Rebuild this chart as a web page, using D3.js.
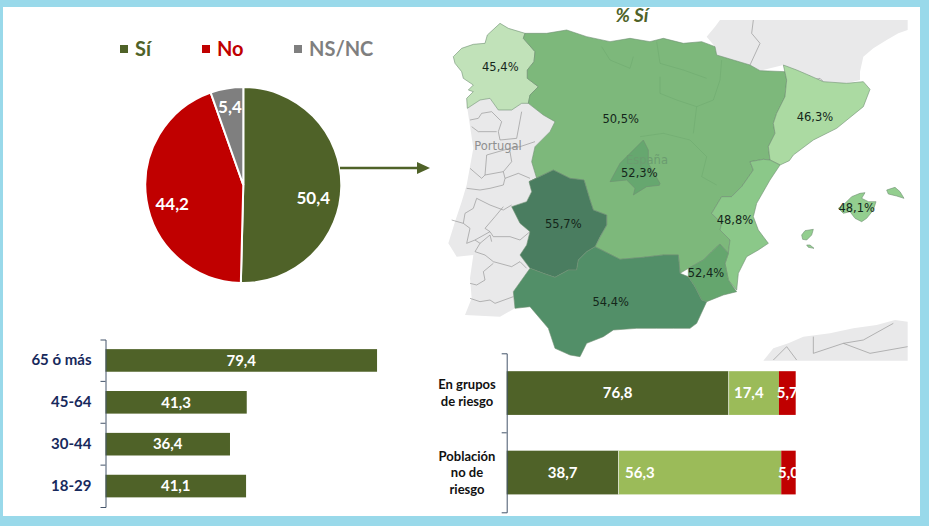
<!DOCTYPE html>
<html><head><meta charset="utf-8">
<script src="https://cdn.jsdelivr.net/npm/d3@7/dist/d3.min.js"></script>
<style>html,body{margin:0;padding:0;background:#fff}svg{display:block}text{font-family:Lato,Carlito,sans-serif}</style>
</head><body><svg id="c" width="929" height="526"></svg>
<script>
// ---- data ----
const pieLabels=["Sí","No","NS/NC"];
const pieValues=[50.4,44.2,5.4];
const pieColors=["#4f6228","#c00000","#7f7f7f"];
const ageGroups=["65 ó más","45-64","30-44","18-29"];
const ageValues=[79.4,41.3,36.4,41.1];
const riskGroups=["En grupos|de riesgo","Población|no de|riesgo"];
const riskA=[76.8,38.7];
const riskB=[17.4,56.3];
const riskC=[5.7,5.0];
const regionNames=["Galicia","Centro-Norte","Cataluña","C. Valenciana","Madrid","Extremadura","Andalucía","Murcia","Baleares"];
const regionValues=[45.4,50.5,46.3,48.8,52.3,55.7,54.4,52.4,48.1];
// outlines are geography in map units (1 unit = a third of a pixel)
const galicia=[[70,170],[95,145],[130,133],[165,130],[172,105],[210,70],[235,85],[285,100],[280,115],[315,155],[312,185],[292,210],[292,235],[325,260],[300,285],[295,310],[275,310],[245,330],[205,330],[180,295],[150,300],[112,325],[110,295],[130,275],[115,270],[130,255],[100,235],[95,215],[75,190]];
const centroNorte=[[285,100],[350,100],[410,90],[470,110],[540,125],[600,115],[660,125],[700,115],[760,130],[815,125],[855,140],[860,165],[910,180],[960,195],[990,212],[1065,215],[1070,240],[1065,290],[1040,340],[1030,370],[1035,400],[1015,440],[1020,480],[1000,478],[960,485],[970,510],[935,560],[905,590],[875,590],[845,640],[875,670],[870,690],[900,720],[895,760],[870,732],[845,755],[820,780],[775,805],[750,820],[745,765],[700,765],[640,772],[570,778],[495,740],[530,675],[530,645],[490,630],[480,600],[462,540],[420,535],[370,510],[297,545],[320,535],[305,485],[315,440],[360,395],[375,365],[340,345],[295,310],[300,285],[325,260],[292,235],[292,210],[312,185],[315,155],[280,115]];
const cataluna=[[1060,195],[1100,210],[1135,225],[1180,245],[1250,250],[1300,245],[1320,268],[1300,320],[1220,385],[1150,420],[1090,465],[1078,482],[1050,495],[1020,480],[1015,440],[1035,400],[1030,370],[1040,340],[1065,290],[1070,240]];
const valencia=[[1020,480],[1050,495],[1020,540],[980,610],[970,650],[985,690],[1015,730],[985,750],[950,770],[925,820],[920,870],[895,840],[885,790],[895,760],[900,720],[870,690],[875,670],[845,640],[875,590],[905,590],[935,560],[970,510],[960,485],[1000,478]];
const madrid=[[640,420],[655,450],[655,490],[690,550],[688,556],[650,560],[610,585],[615,565],[590,540],[540,545],[570,490],[600,460]];
const extremadura=[[297,545],[370,510],[420,535],[462,540],[480,600],[490,630],[530,645],[530,675],[510,710],[495,740],[470,755],[445,780],[440,810],[415,810],[375,832],[340,820],[300,805],[270,765],[290,735],[300,695],[270,670],[245,620],[290,605],[305,575]];
const andalucia=[[495,740],[570,778],[640,772],[700,765],[745,765],[750,820],[775,830],[795,860],[815,900],[830,905],[800,970],[780,985],[730,985],[680,985],[620,985],[550,990],[520,1010],[470,1030],[450,1070],[420,1065],[375,1045],[355,985],[300,920],[255,925],[250,875],[300,805],[340,820],[375,832],[415,810],[440,810],[445,780],[470,755]];
const murcia=[[870,732],[895,760],[885,790],[895,840],[920,875],[880,885],[830,905],[815,900],[795,860],[775,830],[775,805],[820,780],[845,755]];
const mallorca=[[1225,625],[1245,610],[1265,590],[1290,580],[1305,578],[1295,595],[1315,605],[1338,605],[1330,630],[1310,655],[1295,665],[1275,655],[1260,635],[1240,640]];
const menorca=[[1370,570],[1395,562],[1410,575],[1422,595],[1400,588],[1375,582]];
const ibiza=[[1115,705],[1125,692],[1150,688],[1145,705],[1130,720],[1118,718]];
const formentera=[[1130,735],[1140,735],[1152,745],[1135,742]];
const portugal=[[112,325],[150,300],[180,295],[205,330],[245,330],[275,310],[295,310],[340,345],[375,365],[360,395],[315,440],[305,485],[320,535],[297,545],[305,575],[290,605],[245,620],[270,670],[300,695],[290,735],[270,765],[300,805],[250,875],[255,925],[210,950],[105,945],[125,895],[120,835],[130,765],[80,770],[55,730],[75,665],[95,605],[110,555],[130,445],[115,345]];
const francia=[[855,140],[830,110],[855,80],[870,60],[1433,60],[1433,90],[1405,100],[1370,120],[1330,145],[1300,170],[1290,215],[1290,240],[1250,250],[1180,245],[1135,225],[1060,195],[990,212],[960,195],[910,180],[860,165]];
const marruecos=[[1000,1082],[1030,1045],[1075,1030],[1120,1010],[1200,1000],[1270,985],[1340,975],[1395,960],[1433,965],[1433,1082]];
const innerBorders=[[[515,140],[540,180],[600,205],[610,170]],[[680,125],[690,190],[760,210],[830,235]],[[875,180],[870,240],[850,300],[800,320],[790,400]],[[690,230],[690,280],[740,300],[800,320]],[[630,410],[700,400],[780,420],[830,470],[815,530],[860,555]]];
const greyBorders=[
 [[970,60],[965,100],[990,130],[960,195]],[[1135,225],[1150,240],[1170,235],[1180,245]],
 [[120,360],[145,355],[155,340],[185,335],[215,365],[205,395],[210,420],[260,415],[275,335]],
 [[125,380],[145,395],[200,395]],[[170,465],[240,445],[270,440],[315,425]],
 [[170,465],[165,525],[220,515],[245,485],[240,455]],[[120,505],[155,535],[165,525]],
 [[220,515],[225,535],[265,520],[300,535]],[[110,565],[150,570],[180,565],[220,555],[225,535]],
 [[65,660],[100,670],[105,640],[130,625],[140,595],[180,615],[220,630],[245,615]],
 [[100,670],[120,685],[110,730],[135,720],[180,695],[165,685],[195,650],[220,620]],
 [[180,695],[190,710],[240,710],[270,720],[300,695]],[[135,720],[150,730],[180,705],[185,725]],
 [[135,755],[165,765],[190,785],[245,800],[270,785],[290,805]],[[150,730],[135,755]],
 [[190,790],[160,815],[165,840],[140,855],[120,850]],[[120,895],[150,905],[180,900],[195,910],[250,890]],
 [[1150,1010],[1150,1060],[1240,1030],[1300,1020],[1390,970]],[[1030,1080],[1070,1040],[1100,1080]],[[1240,1030],[1320,1060],[1433,1040]]];
const mapLabels=["45,4%","50,5%","46,3%","48,8%","52,3%","55,7%","54,4%","52,4%","48,1%"];
const pieText=["50,4","44,2","5,4"];
const fmt=v=>String(v.toFixed(1)).replace(".",",");

// ---- page frame ----
const svg=d3.select("#c");
svg.append("rect").attr("width",929).attr("height",526).attr("fill","#99d9ea");
svg.append("rect").attr("x",3).attr("y",7).attr("width",917).attr("height",509).attr("fill","#fff");

// ---- map ----
const proj=d3.geoIdentity().scale(1/3).translate([430,0]);
const path=d3.geoPath(proj);
const poly=r=>({type:"Polygon",coordinates:[r.concat([r[0]])]});
const color=d3.scaleLinear().domain([45.4,46.3,48.5,50.5,52.4,54.4,55.7]).range(["#c1e2b9","#abdaa2","#8ecb8b","#7db87b","#65a66e","#528f68","#4a7d60"]);
const gMap=svg.append("g");
gMap.selectAll("path.land").data([portugal,francia,marruecos]).join("path").attr("class","land")
  .attr("d",d=>path(poly(d))).attr("fill","#e9e9ea").attr("stroke","none");
gMap.selectAll("path.gb").data(greyBorders).join("path").attr("class","gb")
  .attr("d",d=>path({type:"LineString",coordinates:d})).attr("fill","none").attr("stroke","#8c8c8c").attr("stroke-width",0.6);
const regionShapes=[[galicia],[centroNorte],[cataluna],[valencia],[madrid],[extremadura],[andalucia],[murcia],[mallorca,menorca,ibiza,formentera]];
gMap.selectAll("path.reg").data(regionNames.map((n,i)=>({n,v:regionValues[i],s:regionShapes[i]}))).join("path").attr("class","reg")
  .attr("d",d=>path({type:"MultiPolygon",coordinates:d.s.map(r=>[r.concat([r[0]])])}))
  .attr("fill",d=>color(d.v)).attr("stroke","#6f8f72").attr("stroke-width",0.6).attr("stroke-linejoin","round");
gMap.selectAll("path.ib").data(innerBorders).join("path").attr("class","ib")
  .attr("d",d=>path({type:"LineString",coordinates:d})).attr("fill","none").attr("stroke","#5f9a62").attr("stroke-width",0.6).attr("stroke-opacity",0.45);
gMap.append("text").attr("x",498).attr("y",150).attr("text-anchor","middle").style("font-family","'DejaVu Sans'").style("font-size","11.5px").attr("fill","#8f8f8f").text("Portugal");
gMap.append("text").attr("x",647).attr("y",164).attr("text-anchor","middle").style("font-family","'DejaVu Sans'").style("font-size","11.5px").attr("fill","#6b9c70").text("España");
const labelAt=[[211,200],[572,355],[1155,350],[915,658],[628,517],[400,672],[542,905],[828,818],[1280,623]];
gMap.selectAll("text.ml").data(mapLabels).join("text").attr("class","ml")
  .attr("x",(d,i)=>proj(labelAt[i])[0]).attr("y",(d,i)=>proj(labelAt[i])[1]+4.3)
  .attr("text-anchor","middle").style("font-family","'DejaVu Sans'").style("font-size","11.5px").attr("fill","#14261a").text(d=>d);
svg.append("text").attr("x",632).attr("y",22).attr("text-anchor","middle").style("font-size","19px").style("font-weight","700").style("font-style","italic").attr("fill","#4f6228").text("% Sí");

// ---- pie ----
const gPie=svg.append("g").attr("transform","translate(243.3,185)");
const arcs=d3.pie().sort(null)(pieValues);
const arc=d3.arc().innerRadius(0).outerRadius(98);
gPie.selectAll("path").data(arcs).join("path").attr("d",arc).attr("fill",(d,i)=>pieColors[i]).attr("stroke","#fff").attr("stroke-width",2);
const labelR=[70,72,79], labelDy=[12,8,0];
const labelArc=labelR.map(r=>d3.arc().innerRadius(r).outerRadius(r));
gPie.selectAll("text").data(arcs).join("text")
  .attr("x",(d,i)=>labelArc[i].centroid(d)[0]).attr("y",(d,i)=>labelArc[i].centroid(d)[1]+labelDy[i]+6)
  .attr("text-anchor","middle").attr("fill","#fff").style("font-size","17px").style("font-weight","700").text((d,i)=>pieText[i]);

// legend
const legX=[120,202,294];
const gLeg=svg.selectAll("g.leg").data(pieLabels).join("g").attr("class","leg").attr("transform",(d,i)=>`translate(${legX[i]},45)`);
gLeg.append("rect").attr("width",8).attr("height",8).attr("fill",(d,i)=>pieColors[i]);
gLeg.append("text").attr("x",15).attr("y",11).style("font-size","20px").style("font-weight","700").attr("fill",(d,i)=>pieColors[i]).text(d=>d);

// arrow
svg.append("line").attr("x1",340).attr("y1",168).attr("x2",418).attr("y2",168).attr("stroke","#4f6228").attr("stroke-width",2.6);
svg.append("path").attr("d",d3.line()([[417,162],[430,168],[417,174]])+"Z").attr("fill","#4f6228");

// ---- age bars ----
const ay=d3.scaleBand().domain(ageGroups).range([339.5,507]).paddingInner(0.46).paddingOuter(0.23);
const ax=d3.scaleLinear().domain([0,100]).range([105.5,447.5]);
svg.selectAll("rect.age").data(ageValues).join("rect").attr("class","age")
  .attr("x",ax(0)).attr("y",(d,i)=>ay(ageGroups[i])).attr("height",ay.bandwidth()).attr("width",d=>ax(d)-ax(0)).attr("fill","#4f6228");
svg.selectAll("text.agev").data(ageValues).join("text").attr("class","agev")
  .attr("x",d=>(ax(0)+ax(d))/2).attr("y",(d,i)=>ay(ageGroups[i])+ay.bandwidth()/2+5.3)
  .attr("text-anchor","middle").attr("fill","#fff").style("font-size","15px").style("font-weight","700").text(fmt);
const aAxis=svg.append("g").attr("transform","translate(105.5,0)").call(d3.axisLeft(ay).tickSize(0).tickSizeOuter(5).tickPadding(14));
aAxis.select(".domain").attr("stroke","#44546a");
aAxis.selectAll("text").attr("fill","#17295c").style("font-family","Lato").style("font-size","15px").style("font-weight","700");
svg.selectAll("line.at").data(ageGroups.slice(1)).join("line").attr("class","at")
  .attr("x1",100.5).attr("x2",105.5).attr("y1",d=>ay(d)-ay.step()*ay.paddingInner()/2).attr("y2",d=>ay(d)-ay.step()*ay.paddingInner()/2).attr("stroke","#44546a");

// ---- risk bars ----
const ry=d3.scaleBand().domain(riskGroups).range([353.3,512.3]).paddingInner(0.45).paddingOuter(0.225);
const rx=d3.scaleLinear().domain([0,100]).range([506.7,795.7]);
const riskColors=["#4f6228","#9bbb59","#c00000"];
const rows=riskGroups.map((g,i)=>{let s=0;return [riskA[i],riskB[i],riskC[i]].map((v,k)=>{const o={g,v,k,x0:s};s+=v;o.x1=k==2?100:s;return o;});}).flat();
svg.selectAll("rect.risk").data(rows).join("rect").attr("class","risk")
  .attr("x",d=>rx(d.x0)).attr("y",d=>ry(d.g)).attr("width",d=>rx(d.x1)-rx(d.x0)).attr("height",ry.bandwidth()).attr("fill",d=>riskColors[d.k]);
svg.selectAll("line.sep").data(rows.filter(d=>d.k==1)).join("line").attr("class","sep")
  .attr("x1",d=>rx(d.x0)).attr("x2",d=>rx(d.x0)).attr("y1",d=>ry(d.g)).attr("y2",d=>ry(d.g)+ry.bandwidth()).attr("stroke","#fff").attr("stroke-opacity",.6);
const labelShift=d=>d.k==1?(d.v>50?-60:-5):0;
svg.selectAll("text.riskv").data(rows).join("text").attr("class","riskv")
  .attr("x",d=>(rx(d.x0)+rx(d.x1))/2+labelShift(d)).attr("y",d=>ry(d.g)+ry.bandwidth()/2+5.3)
  .attr("text-anchor","middle").attr("fill","#fff").style("font-size","15px").style("font-weight","700").text(d=>fmt(d.v));
const rAxis=svg.append("g").attr("transform","translate(506.7,0)").call(d3.axisLeft(ry).tickSize(0).tickSizeOuter(5).tickFormat(""));
rAxis.select(".domain").attr("stroke","#44546a");
const rMid=(ry(riskGroups[1])+ry(riskGroups[0])+ry.bandwidth())/2;
svg.append("line").attr("x1",501.7).attr("x2",506.7).attr("y1",rMid).attr("y2",rMid).attr("stroke","#44546a");
riskGroups.forEach(g=>{
  const lines=g.split("|"),c=ry(g)+ry.bandwidth()/2;
  lines.forEach((t,i)=>svg.append("text").attr("x",467).attr("y",c+(i-(lines.length-1)/2)*16.5+4.5).attr("text-anchor","middle").attr("fill","#111").style("font-size","13px").style("font-weight","700").text(t));
});
</script></body></html>
